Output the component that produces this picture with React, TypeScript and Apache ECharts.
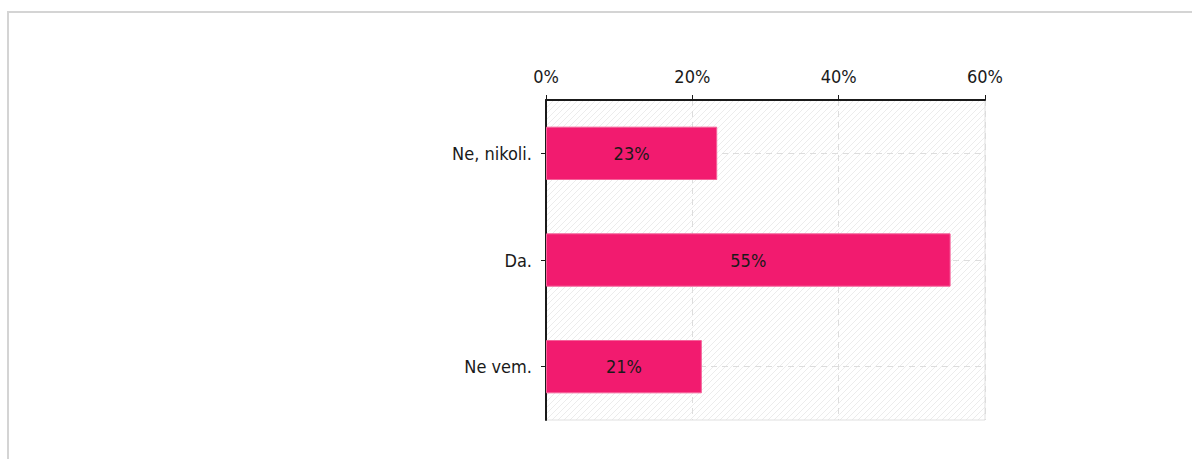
import React, { useEffect, useRef } from "react";
import * as echarts from "echarts";

const categories = ["Ne, nikoli.", "Da.", "Ne vem."];
const values = [23.4, 55.3, 21.3];
const xTicks = { min: 0, max: 60, interval: 20 };

const FONT = "'DejaVu Sans Condensed', 'DejaVu Sans', sans-serif";

function makeHatch(): string {
  const c = document.createElement("canvas");
  const s = 6;
  c.width = s;
  c.height = s;
  const ctx = c.getContext("2d")!;
  ctx.fillStyle = "#ffffff";
  ctx.fillRect(0, 0, s, s);
  ctx.strokeStyle = "#ececec";
  ctx.lineWidth = 1;
  ctx.beginPath();
  ctx.moveTo(0, s);
  ctx.lineTo(s, 0);
  ctx.moveTo(-1, 1);
  ctx.lineTo(1, -1);
  ctx.moveTo(s - 1, s + 1);
  ctx.lineTo(s + 1, s - 1);
  ctx.stroke();
  return c.toDataURL();
}

export default function App() {
  const ref = useRef<HTMLDivElement>(null);
  useEffect(() => {
    if (!ref.current) return;
    const chart = echarts.init(ref.current, null, { renderer: "svg" });
    const hatch = makeHatch();
    chart.setOption({
      animation: false,
      backgroundColor: "#ffffff",
      textStyle: { fontFamily: FONT },
      graphic: [
        {
          type: "rect",
          shape: { x: 8, y: 12, width: 1400, height: 700 },
          style: { fill: "none", stroke: "#d4d4d4", lineWidth: 2 },
          silent: true,
          z: -10,
        },
      ],
      grid: {
        left: 546,
        top: 100,
        width: 439,
        height: 320,
        show: true,
        backgroundColor: { image: hatch, repeat: "repeat" },
        borderColor: "#e0e0e0",
        borderWidth: 1,
      },
      xAxis: {
        type: "value",
        position: "top",
        min: xTicks.min,
        max: xTicks.max,
        interval: xTicks.interval,
        axisLine: { show: true, lineStyle: { color: "#1a1a1a", width: 2 } },
        axisTick: { show: true, length: 5, lineStyle: { color: "#1a1a1a", width: 1 } },
        axisLabel: {
          formatter: "{value}%",
          color: "#1a1a1a",
          fontSize: 18,
          fontFamily: FONT,
          margin: 15,
        },
        splitLine: { show: true, lineStyle: { color: "#dddddd", type: [6, 5], width: 1 } },
      },
      yAxis: {
        type: "category",
        data: categories,
        inverse: true,
        axisLine: { show: true, lineStyle: { color: "#1a1a1a", width: 2 } },
        axisTick: { show: true, alignWithLabel: true, length: 5, lineStyle: { color: "#1a1a1a" } },
        axisLabel: { color: "#1a1a1a", fontSize: 18, fontFamily: FONT, margin: 14 },
        splitLine: {
          show: true,
          alignWithLabel: true,
          lineStyle: { color: "#dddddd", type: [6, 5], width: 1 },
        },
      },
      series: [
        {
          type: "bar",
          data: values,
          barWidth: "50%",
          itemStyle: { color: "#F21B6F", borderColor: "#F5639A", borderWidth: 1 },
          label: {
            show: true,
            position: "inside",
            formatter: (p: any) => Math.round(p.value) + "%",
            color: "#1a1a1a",
            fontSize: 18,
            fontFamily: FONT,
          },
        },
      ],
    });
    return () => chart.dispose();
  }, []);
  return (
    <div
      ref={ref}
      style={{ position: "fixed", left: 0, top: 0, width: 1192, height: 459 }}
    />
  );
}
